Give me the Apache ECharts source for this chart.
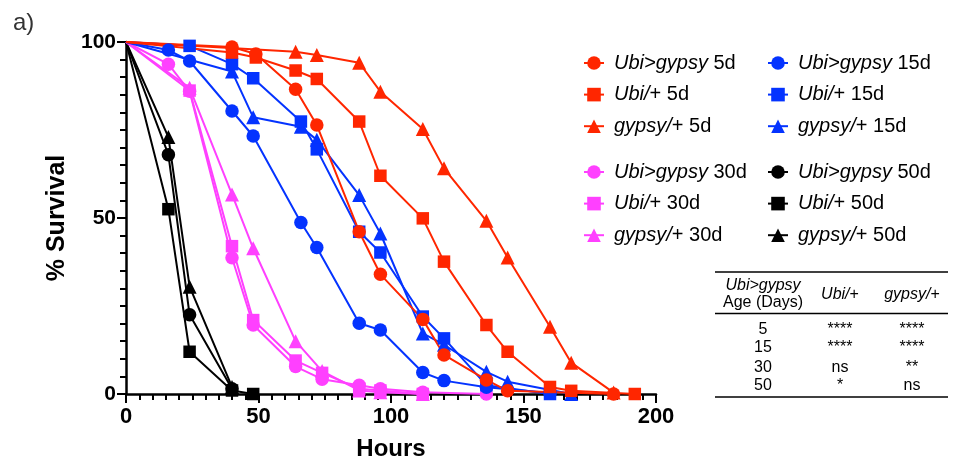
<!DOCTYPE html>
<html>
<head>
<meta charset="utf-8">
<script src="https://cdn.jsdelivr.net/npm/echarts@6/dist/echarts.min.js"></script>
<style>
  html, body { margin: 0; padding: 0; background: #fff; }
  #chart { width: 971px; height: 462px; }
</style>
</head>
<body>
<div id="chart"></div>
<script>
// Survival curves (% alive vs. hours) by genotype and age at start.

// 5 day old flies
const ubiGypsy5dHours = [0, 40, 49, 64, 72, 88, 96, 112, 120, 136, 144, 184];
const ubiGypsy5d      = [100, 98.6, 96.6, 86.6, 76.4, 46.1, 34.0, 21.2, 11.1, 4.0, 0.9, 0];
const ubi5dHours      = [0, 40, 49, 64, 72, 88, 96, 112, 120, 136, 144, 160, 168, 192];
const ubi5d           = [100, 97.0, 95.6, 91.9, 89.5, 77.4, 62.0, 49.9, 37.6, 19.6, 12.0, 2.0, 0.9, 0];
const gypsy5dHours    = [0, 64, 72, 88, 96, 112, 120, 136, 144, 160, 168, 184];
const gypsy5d         = [100, 97.2, 96.3, 94.1, 85.9, 75.3, 64.1, 49.2, 38.8, 19.1, 8.9, 0.4];

// 15 day old flies
const ubiGypsy15dHours = [0, 16, 24, 40, 48, 66, 72, 88, 96, 112, 120, 136, 160];
const ubiGypsy15d      = [100, 97.7, 94.6, 80.4, 73.3, 48.7, 41.6, 20.1, 18.2, 6.1, 3.8, 1.9, 0.3];
const ubi15dHours      = [0, 24, 40, 48, 66, 72, 88, 96, 112, 120, 136, 160];
const ubi15d           = [100, 98.9, 93.7, 89.7, 77.4, 69.5, 46.1, 40.2, 22.0, 15.8, 2.5, 0];
const gypsy15dHours    = [0, 40, 48, 66, 72, 88, 96, 112, 120, 136, 144, 168];
const gypsy15d         = [100, 91.6, 78.6, 75.9, 72.2, 56.5, 45.6, 17.2, 14.0, 6.3, 3.5, 0];

// 30 day old flies
const ubiGypsy30dHours = [0, 16, 24, 40, 48, 64, 74, 88, 96, 112, 136];
const ubiGypsy30d      = [100, 93.7, 86.0, 38.7, 19.6, 7.8, 4.2, 2.5, 1.5, 0.5, 0];
const ubi30dHours      = [0, 24, 40, 48, 64, 74, 88, 96, 112];
const ubi30d           = [100, 86.2, 42.0, 21.0, 9.5, 6.0, 1.5, 1.0, 0];
const gypsy30dHours    = [0, 24, 40, 48, 64, 74, 88, 96, 112];
const gypsy30d         = [100, 87.0, 56.7, 41.4, 15.0, 6.5, 1.0, 0.5, 0];

// 50 day old flies
const ubiGypsy50dHours = [0, 16, 24, 40];
const ubiGypsy50d      = [100, 68.0, 22.5, 1.5];
const ubi50dHours      = [0, 16, 24, 40, 48];
const ubi50d           = [100, 52.5, 12.0, 1.0, 0];
const gypsy50dHours    = [0, 16, 24, 40];
const gypsy50d         = [100, 73.0, 30.5, 2.0];

// Axis ticks
const xTicks = [0, 50, 100, 150, 200];
const yTicks = [0, 50, 100];

// Log-rank comparison table
const tableAges  = ['5', '15', '30', '50'];
const sigVsUbi   = ['****', '****', 'ns', '*'];
const sigVsGypsy = ['****', '****', '**', 'ns'];

const RED = '#ff2600', BLUE = '#0433ff', PINK = '#ff40ff', BLACK = '#000000';
const FONT = 'Liberation Sans, Arial, Helvetica, sans-serif';

const symSize = { circle: 13.5, rect: 12.5, triangle: 14 };

function makeSeries(name, hours, values, color, symbol) {
  return {
    name: name,
    type: 'line',
    data: hours.map((h, i) => [h, values[i]]),
    symbol: symbol,
    symbolSize: (v) => (v[0] === 0 ? 0 : symSize[symbol]),
    lineStyle: { color: color, width: 2 },
    itemStyle: { color: color },
    emphasis: { disabled: true },
    z: 2
  };
}

const series = [
  makeSeries('Ubi>gypsy 50d', ubiGypsy50dHours, ubiGypsy50d, BLACK, 'circle'),
  makeSeries('Ubi/+ 50d', ubi50dHours, ubi50d, BLACK, 'rect'),
  makeSeries('gypsy/+ 50d', gypsy50dHours, gypsy50d, BLACK, 'triangle'),
  makeSeries('gypsy/+ 30d', gypsy30dHours, gypsy30d, PINK, 'triangle'),
  makeSeries('Ubi/+ 30d', ubi30dHours, ubi30d, PINK, 'rect'),
  makeSeries('Ubi>gypsy 30d', ubiGypsy30dHours, ubiGypsy30d, PINK, 'circle'),
  makeSeries('gypsy/+ 15d', gypsy15dHours, gypsy15d, BLUE, 'triangle'),
  makeSeries('Ubi>gypsy 15d', ubiGypsy15dHours, ubiGypsy15d, BLUE, 'circle'),
  makeSeries('Ubi/+ 15d', ubi15dHours, ubi15d, BLUE, 'rect'),
  makeSeries('gypsy/+ 5d', gypsy5dHours, gypsy5d, RED, 'triangle'),
  makeSeries('Ubi/+ 5d', ubi5dHours, ubi5d, RED, 'rect'),
  makeSeries('Ubi>gypsy 5d', ubiGypsy5dHours, ubiGypsy5d, RED, 'circle')
];

// Genotype part in italics (up to and including the slash), the rest upright
function richName(name) {
  const sp = name.lastIndexOf(' ');
  const geno = name.slice(0, sp);
  const age = name.slice(sp);
  const slash = geno.indexOf('/');
  if (slash >= 0) {
    return '{i|' + geno.slice(0, slash + 1) + '}{r|' + geno.slice(slash + 1) + age + '}';
  }
  return '{i|' + geno + '}{r|' + age + '}';
}

const legendRich = {
  i: { fontStyle: 'italic', fontSize: 20, fontFamily: FONT, color: '#000', lineHeight: 17 },
  r: { fontSize: 20, fontFamily: FONT, color: '#000', lineHeight: 17 }
};

function makeLegend(names, left, top) {
  return {
    data: names,
    orient: 'vertical',
    left: left,
    top: top,
    itemWidth: 20,
    itemHeight: 17,
    itemGap: 11.6,
    padding: 0,
    selectedMode: false,
    formatter: richName,
    textStyle: { rich: legendRich, padding: [0, 0, 0, 5], lineHeight: 17 }
  };
}

const legends = [
  makeLegend(['Ubi>gypsy 5d', 'Ubi/+ 5d', 'gypsy/+ 5d'], 583, 53),
  makeLegend(['Ubi>gypsy 15d', 'Ubi/+ 15d', 'gypsy/+ 15d'], 767, 53),
  makeLegend(['Ubi>gypsy 30d', 'Ubi/+ 30d', 'gypsy/+ 30d'], 583, 162),
  makeLegend(['Ubi>gypsy 50d', 'Ubi/+ 50d', 'gypsy/+ 50d'], 767, 162)
];

// Comparison table drawn as graphic elements
const tableRich = {
  i: { fontStyle: 'italic', fontSize: 16, fontFamily: FONT, color: '#000' },
  r: { fontSize: 16, fontFamily: FONT, color: '#000' }
};
const colX = [763, 840, 912];
const rowY = [330, 348, 368, 386];

function txt(x, y, text, rich) {
  return {
    type: 'text', x: x, y: y, silent: true,
    style: {
      text: text, x: 0, y: 0, align: 'center', verticalAlign: 'middle',
      fontSize: 16, fontFamily: FONT, fill: '#000', rich: rich || tableRich
    }
  };
}
function rule(y, w) {
  return { type: 'line', silent: true, shape: { x1: 715, y1: y, x2: 948, y2: y }, style: { stroke: '#000', lineWidth: w } };
}

const graphics = [
  rule(272, 1.6),
  rule(313.5, 1.3),
  rule(397, 1.3),
  txt(colX[0], 286, '{i|Ubi>gypsy}'),
  txt(colX[0], 303, 'Age (Days)'),
  txt(colX[1], 295, '{i|Ubi/}{r|+}'),
  txt(colX[2], 295, '{i|gypsy/}{r|+}')
];
tableAges.forEach((age, k) => {
  graphics.push(txt(colX[0], rowY[k], age));
  graphics.push(txt(colX[1], rowY[k], sigVsUbi[k]));
  graphics.push(txt(colX[2], rowY[k], sigVsGypsy[k]));
});

const chart = echarts.init(document.getElementById('chart'), null, { renderer: 'canvas' });
chart.setOption({
  animation: false,
  backgroundColor: '#fff',
  title: {
    text: 'a)', left: 8, top: 6,
    textStyle: { fontSize: 24, fontWeight: 'normal', color: '#333', fontFamily: FONT }
  },
  legend: legends,
  grid: { left: 126, right: 315, top: 42, bottom: 68, containLabel: false, outerBoundsMode: 'none' },
  xAxis: {
    type: 'value', min: xTicks[0], max: xTicks[xTicks.length - 1], interval: 50,
    name: 'Hours', nameLocation: 'middle', nameGap: 43,
    nameTextStyle: { fontSize: 24, fontWeight: 'bold', color: '#000', fontFamily: FONT },
    axisLine: { show: true, lineStyle: { color: '#000', width: 2.5 } },
    axisTick: { show: true, length: 9, lineStyle: { color: '#000', width: 2 } },
    minorTick: { show: true, splitNumber: 10, length: 6, lineStyle: { color: '#000', width: 2 } },
    axisLabel: {
      fontSize: 22, fontWeight: 'bold', color: '#000', fontFamily: FONT, margin: 12,
      formatter: (v) => (xTicks.includes(v) ? String(v) : '')
    },
    splitLine: { show: false }
  },
  yAxis: {
    type: 'value', min: yTicks[0], max: yTicks[yTicks.length - 1], interval: 50,
    name: '% Survival', nameLocation: 'middle', nameGap: 54,
    nameTextStyle: { fontSize: 25, fontWeight: 'bold', color: '#000', fontFamily: FONT },
    axisLine: { show: true, lineStyle: { color: '#000', width: 2.5 } },
    axisTick: { show: true, length: 9, lineStyle: { color: '#000', width: 2 } },
    minorTick: { show: true, splitNumber: 10, length: 6, lineStyle: { color: '#000', width: 2 } },
    axisLabel: {
      fontSize: 21, fontWeight: 'bold', color: '#000', fontFamily: FONT, margin: 10,
      formatter: (v) => (yTicks.includes(v) ? String(v) : '')
    },
    splitLine: { show: false }
  },
  graphic: graphics,
  series: series
});
</script>
</body>
</html>
